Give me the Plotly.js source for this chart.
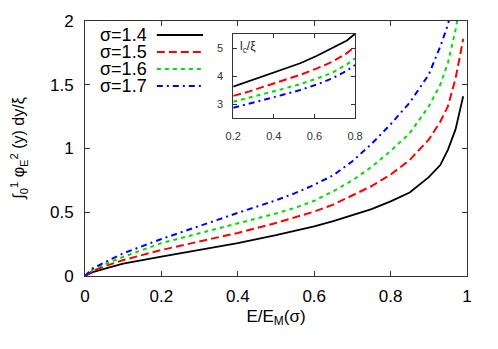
<!DOCTYPE html>
<html>
<head>
<meta charset="utf-8">
<script src="https://cdn.plot.ly/plotly-3.0.1.min.js"></script>
<style>
  body { margin: 0; background: #fff; }
  #graph { width: 498px; height: 349px; }
</style>
</head>
<body>
<div id="graph"></div>
<script>
// main curves: integral of phi_E^2 vs E/E_M
var sigmaNames = ['σ=1.4', 'σ=1.5', 'σ=1.6', 'σ=1.7'];
var colors = ['#000000', '#ff0000', '#00e000', '#0000ff'];
var dashes = ['solid', '8px,4px', '4px,4px', '6px,4px,2px,4px'];

var x14 = [0, 0.02, 0.05, 0.1, 0.2, 0.3, 0.4, 0.5, 0.55, 0.6, 0.65, 0.7, 0.75, 0.8, 0.85, 0.9, 0.93, 0.95, 0.97, 0.99];
var y14 = [0, 0.03, 0.055, 0.098, 0.152, 0.205, 0.258, 0.32, 0.353, 0.39, 0.43, 0.475, 0.525, 0.585, 0.655, 0.775, 0.87, 0.99, 1.15, 1.41];

var x15 = [0, 0.02, 0.05, 0.1, 0.2, 0.3, 0.4, 0.5, 0.55, 0.6, 0.65, 0.7, 0.75, 0.8, 0.85, 0.9, 0.93, 0.95, 0.96, 0.97, 0.98, 0.99];
var y15 = [0, 0.04, 0.075, 0.125, 0.204, 0.27, 0.338, 0.416, 0.458, 0.505, 0.56, 0.63, 0.705, 0.795, 0.91, 1.07, 1.21, 1.33, 1.43, 1.55, 1.70, 1.86];

var x16 = [0, 0.02, 0.05, 0.1, 0.2, 0.3, 0.4, 0.5, 0.55, 0.6, 0.65, 0.7, 0.75, 0.8, 0.85, 0.9, 0.93, 0.95, 0.97, 0.98];
var y16 = [0, 0.05, 0.09, 0.15, 0.258, 0.335, 0.407, 0.49, 0.535, 0.59, 0.665, 0.75, 0.855, 0.98, 1.12, 1.33, 1.50, 1.67, 1.93, 2.1];

var x17 = [0, 0.02, 0.05, 0.1, 0.2, 0.3, 0.4, 0.5, 0.55, 0.6, 0.65, 0.7, 0.75, 0.8, 0.85, 0.9, 0.93, 0.95, 0.96];
var y17 = [0, 0.06, 0.105, 0.178, 0.29, 0.395, 0.495, 0.594, 0.65, 0.715, 0.79, 0.9, 1.035, 1.19, 1.36, 1.58, 1.80, 1.97, 2.1];

// inset: l_c/xi
var xin = [0.2, 0.28, 0.36, 0.445, 0.53, 0.61, 0.69, 0.76, 0.8];
var lc14 = [3.63, 3.83, 4.01, 4.22, 4.46, 4.72, 5.0, 5.27, 5.51];
var lc15 = [3.30, 3.46, 3.65, 3.84, 4.05, 4.27, 4.52, 4.82, 5.05];
var lc16 = [3.09, 3.23, 3.39, 3.55, 3.72, 3.91, 4.13, 4.42, 4.64];
var lc17 = [2.88, 3.02, 3.18, 3.34, 3.51, 3.70, 3.93, 4.20, 4.40];

var mainX = [x14, x15, x16, x17];
var mainY = [y14, y15, y16, y17];
var insetY = [lc14, lc15, lc16, lc17];

var traces = [];
for (var i = 0; i < 4; i++) {
    traces.push({
        x: mainX[i], y: mainY[i], type: 'scatter', mode: 'lines',
        name: sigmaNames[i], showlegend: false,
        line: {color: colors[i], width: i == 0 ? 1.8 : 2, dash: dashes[i]}
    });
}
for (var i = 0; i < 4; i++) {
    traces.push({
        x: xin, y: insetY[i], type: 'scatter', mode: 'lines',
        xaxis: 'x2', yaxis: 'y2', showlegend: false,
        line: {color: colors[i], width: i == 0 ? 1.8 : 2, dash: dashes[i]}
    });
}

// hand made key, text left of the line sample like gnuplot
var annots = [];
var shapes = [];
var keyY = [0.945, 0.878, 0.812, 0.745];
for (var i = 0; i < 4; i++) {
    annots.push({
        xref: 'paper', yref: 'paper', x: 0.168, y: keyY[i],
        xanchor: 'right', yanchor: 'middle', showarrow: false,
        text: sigmaNames[i], font: {size: 18, color: '#000'}
    });
    shapes.push({
        type: 'line', xref: 'paper', yref: 'paper',
        x0: 0.188, x1: 0.309, y0: keyY[i], y1: keyY[i],
        line: {color: colors[i], width: 2, dash: dashes[i]}
    });
}
annots.push({
    xref: 'paper', yref: 'paper', x: -0.175, y: 0.5,
    xanchor: 'center', yanchor: 'middle', showarrow: false, textangle: -90,
    text: '∫<sub>0</sub><sup>1</sup> φ<sub>E</sub><sup>2</sup> (y) dy/ξ',
    font: {size: 16, color: '#000'}
});
annots.push({
    xref: 'x2 domain', yref: 'y2 domain', x: 0.04, y: 0.97,
    xanchor: 'left', yanchor: 'top', showarrow: false,
    text: 'l<sub>c</sub>/ξ', font: {size: 12, color: '#222'}
});

var layout = {
    width: 498, height: 349,
    margin: {l: 85, r: 31, t: 21, b: 73},
    paper_bgcolor: '#fff', plot_bgcolor: '#fff',
    font: {family: 'Liberation Sans, Arial, sans-serif', color: '#000'},
    showlegend: false,
    xaxis: {
        range: [0, 1], tickvals: [0, 0.2, 0.4, 0.6, 0.8, 1],
        ticks: 'inside', ticklen: 5, tickcolor: '#333',
        showline: true, linecolor: '#333', linewidth: 1, mirror: 'ticks',
        showgrid: false, zeroline: false,
        tickfont: {size: 17}, ticklabelstandoff: 5,
        title: {text: 'E/E<sub>M</sub>(σ)', font: {size: 17}, standoff: 4}
    },
    yaxis: {
        range: [0, 2], tickvals: [0, 0.5, 1, 1.5, 2],
        ticks: 'inside', ticklen: 5, tickcolor: '#333',
        showline: true, linecolor: '#333', linewidth: 1, mirror: 'ticks',
        showgrid: false, zeroline: false,
        tickfont: {size: 17}, ticklabelstandoff: 7
    },
    xaxis2: {
        domain: [0.388, 0.707], anchor: 'y2',
        range: [0.2, 0.8], tickvals: [0.2, 0.4, 0.6, 0.8],
        ticks: 'inside', ticklen: 4, tickcolor: '#333',
        showline: true, linecolor: '#333', linewidth: 1, mirror: 'ticks',
        showgrid: false, zeroline: false,
        tickfont: {size: 11, color: '#333'}, ticklabelstandoff: 7
    },
    yaxis2: {
        domain: [0.618, 0.949], anchor: 'x2',
        range: [2.5, 5.5], tickvals: [3, 4, 5],
        ticks: 'inside', ticklen: 4, tickcolor: '#333',
        showline: true, linecolor: '#333', linewidth: 1, mirror: 'ticks',
        showgrid: false, zeroline: false,
        tickfont: {size: 11, color: '#333'}, ticklabelstandoff: 7
    },
    annotations: annots,
    shapes: shapes
};

Plotly.newPlot('graph', traces, layout, {staticPlot: true});
</script>
</body>
</html>
